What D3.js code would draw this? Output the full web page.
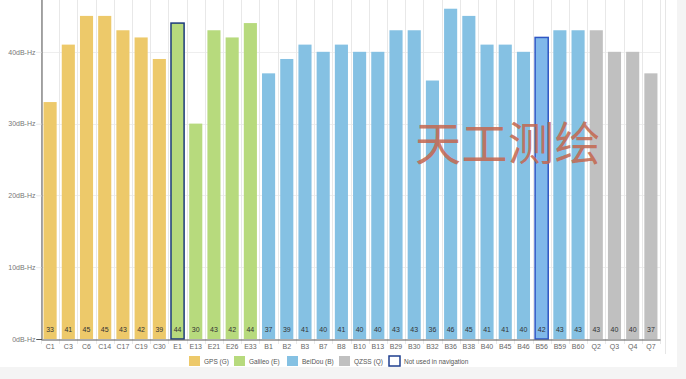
<!DOCTYPE html>
<html>
<head>
<meta charset="utf-8">
<script src="https://cdn.jsdelivr.net/npm/d3@7"></script>
<style>
  body { margin: 0; background: #f4f4f4; }
  svg { display: block; font-family: "Liberation Sans", Arial, sans-serif; }
</style>
</head>
<body>
<div id="chart"></div>
<script>
// satellites, in display order
var sats = ["C1","C3","C6","C14","C17","C19","C30",
            "E1","E13","E21","E26","E33",
            "B1","B2","B3","B7","B8","B10","B13","B29","B30","B32","B36","B38","B40","B45","B46","B56","B59","B60",
            "Q2","Q3","Q4","Q7"];
var cn0 = [33,41,45,45,43,42,39,
           44,30,43,42,44,
           37,39,41,40,41,40,40,43,43,36,46,45,41,41,40,42,43,43,
           43,40,40,37];
var notUsed = ["E1","B56"];
var yTicks = [0,10,20,30,40];
var systems = ["G","E","B","Q"];
var systemNames = ["GPS (G)","Galileo (E)","BeiDou (B)","QZSS (Q)"];
var systemColors = ["#edc96a","#b7da7d","#85c1e3","#c0c0c0"];

var W = 686, H = 379;
var svg = d3.select("#chart").append("svg").attr("width", W).attr("height", H);

// white panel
svg.append("rect").attr("x", 0).attr("y", 0).attr("width", 677).attr("height", 367).attr("fill", "#fff");
svg.append("line").attr("x1", 665.5).attr("x2", 665.5).attr("y1", 0).attr("y2", 354)
    .attr("stroke", "#e6e6e6");

var x = d3.scaleBand().domain(sats).range([41, 660]).paddingInner(0.28).paddingOuter(0.14);
var y = d3.scaleLinear().domain([0, 50]).range([339, -20]);
var color = d3.scaleOrdinal().domain(systems).range(systemColors);
var step = x.step();

function sys(s) { return s.charAt(0) === "C" ? "G" : s.charAt(0); }

// horizontal grid
svg.append("g").selectAll("line").data(yTicks.slice(1)).join("line")
    .attr("x1", 36).attr("x2", 660)
    .attr("y1", function(d) { return Math.round(y(d)) + 0.5; })
    .attr("y2", function(d) { return Math.round(y(d)) + 0.5; })
    .attr("stroke", "#eeeeee");

// vertical grid at band boundaries
svg.append("g").selectAll("line").data(d3.range(sats.length + 1)).join("line")
    .attr("x1", function(i) { return Math.round(41 + i * step) + 0.5; })
    .attr("x2", function(i) { return Math.round(41 + i * step) + 0.5; })
    .attr("y1", 0).attr("y2", 344)
    .attr("stroke", "#e8e8e8");

// bars
svg.append("g").selectAll("rect").data(sats).join("rect")
    .attr("x", function(d) { return x(d); })
    .attr("width", x.bandwidth())
    .attr("y", function(d, i) { return y(cn0[i]); })
    .attr("height", function(d, i) { return y(0) - y(cn0[i]); })
    .attr("fill", function(d) { return d === "B56" ? "#80b8ea" : color(sys(d)); })
    .attr("stroke", function(d) {
        if (notUsed.indexOf(d) < 0) return "none";
        return d === "E1" ? "#1d3b7c" : "#2f56c4";
    })
    .attr("stroke-width", 1.5);

// value labels
svg.append("g").selectAll("text").data(sats).join("text")
    .attr("x", function(d) { return x(d) + x.bandwidth() / 2; })
    .attr("y", 332)
    .attr("text-anchor", "middle")
    .attr("font-size", 7)
    .attr("fill", "#333")
    .text(function(d, i) { return cn0[i]; });

// y axis
var yAxis = svg.append("g").attr("transform", "translate(41.5,0)")
    .call(d3.axisLeft(y).tickValues(yTicks).tickSize(5).tickFormat(function(d) { return d + "dB-Hz"; }));
yAxis.select(".domain").attr("stroke", "#555");
yAxis.selectAll(".tick line").attr("stroke", function(d) { return d === 0 ? "#555" : "#eeeeee"; });
yAxis.selectAll(".tick text").attr("font-size", 7).attr("fill", "#777").attr("x", -6)
    .attr("font-family", "Liberation Sans, Arial, sans-serif");

// x axis
var xAxis = svg.append("g").attr("transform", "translate(0,339.5)")
    .call(d3.axisBottom(x).tickSize(0).tickPadding(5));
xAxis.select(".domain").attr("stroke", "#555");
xAxis.selectAll(".tick text").attr("font-size", 7).attr("fill", "#666")
    .attr("font-family", "Liberation Sans, Arial, sans-serif");

// watermark
svg.append("text").attr("x", 415).attr("y", 160)
    .attr("font-family", "Noto Sans CJK SC")
    .attr("font-size", 46)
    .attr("letter-spacing", 0.5)
    .attr("fill", "#c4664e").attr("fill-opacity", 0.85)
    .text("天工测绘");

// legend
var legendItems = systemNames.map(function(n, i) { return { name: n, fill: systemColors[i], stroke: "none" }; });
legendItems.push({ name: "Not used in navigation", fill: "#fff", stroke: "#1f3f8f" });
var legendX = [189, 234, 287, 339, 389];
var lg = svg.append("g").selectAll("g").data(legendItems).join("g")
    .attr("transform", function(d, i) { return "translate(" + legendX[i] + ",356)"; });
lg.append("rect").attr("width", 11).attr("height", 10)
    .attr("fill", function(d) { return d.fill; })
    .attr("stroke", function(d) { return d.stroke; })
    .attr("stroke-width", 1.5);
lg.append("text").attr("x", 15).attr("y", 7.5)
    .attr("font-size", 6.5).attr("fill", "#555")
    .text(function(d) { return d.name; });
</script>
</body>
</html>
